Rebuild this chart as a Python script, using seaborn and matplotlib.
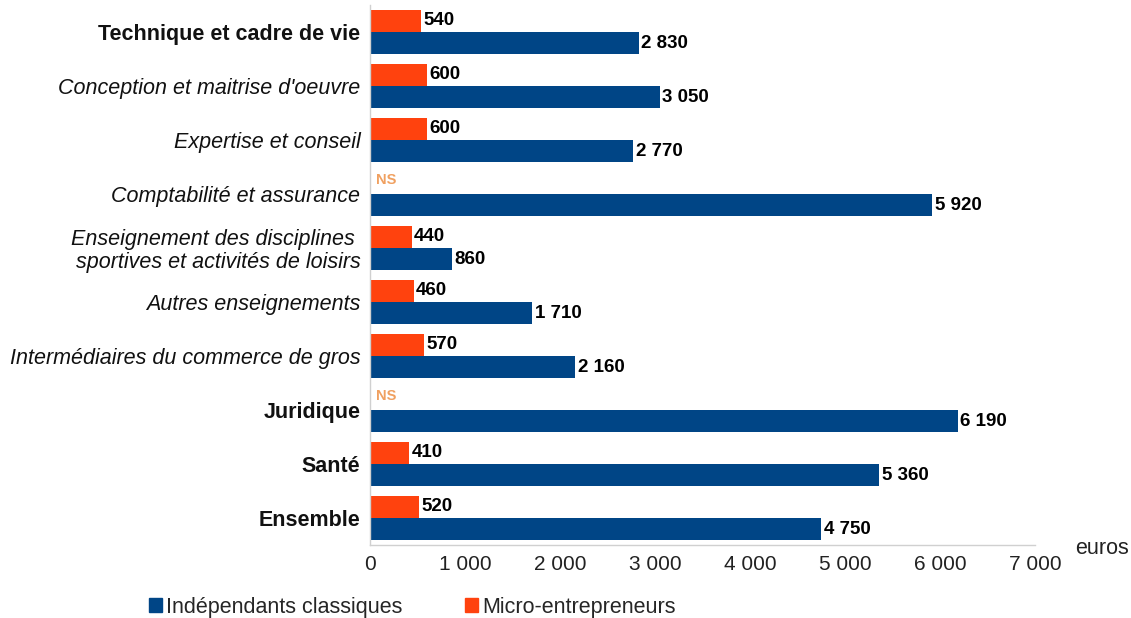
import matplotlib
matplotlib.use("Agg")
import matplotlib.pyplot as plt
import seaborn as sns
import pandas as pd
import numpy as np
from matplotlib.patches import Patch

categories = [
    "Technique et cadre de vie",
    "Conception et maitrise d'oeuvre",
    "Expertise et conseil",
    "Comptabilité et assurance",
    "Enseignement des disciplines \nsportives et activités de loisirs",
    "Autres enseignements",
    "Intermédiaires du commerce de gros",
    "Juridique",
    "Santé",
    "Ensemble",
]
bold_cats = ["Technique et cadre de vie", "Juridique", "Santé", "Ensemble"]
micro = [540, 600, 600, np.nan, 440, 460, 570, np.nan, 410, 520]
classiques = [2830, 3050, 2770, 5920, 860, 1710, 2160, 6190, 5360, 4750]
series_names = ["Micro-entrepreneurs", "Indépendants classiques"]
xticks = [0, 1000, 2000, 3000, 4000, 5000, 6000, 7000]

BLUE = "#004586"
ORANGE = "#ff420e"
NS_COLOR = "#f0a060"
WIDTH = 0.82

sns.set_theme(style="white")
plt.rcParams["font.family"] = ["Liberation Sans", "DejaVu Sans"]

df = pd.DataFrame({
    "cat": categories * 2,
    "serie": [series_names[0]] * len(categories) + [series_names[1]] * len(categories),
    "val": micro + classiques,
})

fig = plt.figure(figsize=(11.31, 6.18), dpi=100)
ax = fig.add_axes([370 / 1131, 1 - 545 / 618, (1035 - 370) / 1131, 540 / 618])

sns.barplot(data=df, y="cat", x="val", hue="serie", hue_order=series_names,
            order=categories,
            palette={series_names[0]: ORANGE, series_names[1]: BLUE},
            orient="h", width=WIDTH, dodge=True, ax=ax, legend=False,
            saturation=1, errorbar=None, linewidth=0)

def fmt(v):
    return f"{int(v):,}".replace(",", " ")

for cont in ax.containers:
    for bar in cont:
        w = bar.get_width()
        if np.isnan(w) or w == 0:
            continue
        y = bar.get_y() + bar.get_height() / 2
        ax.text(w + 25, y, fmt(w), va="center", ha="left",
                fontsize=13.5, fontweight="bold", color="black")

# NS labels for missing micro values
for i, v in enumerate(micro):
    if np.isnan(v):
        y = i - WIDTH / 4 - 0.05
        ax.text(60, y, "NS", va="center", ha="left", fontsize=10.5,
                fontweight="bold", color=NS_COLOR)

ax.set_xlim(0, 7000)
ax.set_ylim(len(categories) - 0.5, -0.5)
ax.set_xticks(xticks)
ax.set_xticklabels([fmt(t) for t in xticks], fontsize=15, color="#222222")
ax.set_xlabel("")
ax.set_ylabel("")
ax.tick_params(axis="x", length=4, color="#cccccc", direction="in", pad=7)
ax.tick_params(axis="y", length=0, pad=7)
for lab in ax.get_yticklabels():
    txt = lab.get_text()
    if txt in bold_cats:
        lab.set_fontweight("bold")
    else:
        lab.set_fontstyle("italic")
    lab.set_fontsize(15.5)
    lab.set_color("#111111")
    lab.set_linespacing(1.1)

for s in ["top", "right"]:
    ax.spines[s].set_visible(False)
for s in ["left", "bottom"]:
    ax.spines[s].set_color("#d0d0d0")
    ax.spines[s].set_linewidth(1)

fig.text(1075 / 1131, 1 - 548 / 618, "euros", fontsize=15.5, va="center", ha="left", color="#222222")

handles = [Patch(color=BLUE, label="Indépendants classiques"),
           Patch(color=ORANGE, label="Micro-entrepreneurs")]
fig.legend(handles=handles, loc="center left", bbox_to_anchor=(140 / 1131, 1 - 607 / 618),
           ncol=2, frameon=False, fontsize=15.5, handlelength=0.6, handleheight=0.6,
           handletextpad=0.2, columnspacing=2.9, borderaxespad=0)

fig.savefig("out.png", dpi=100)
